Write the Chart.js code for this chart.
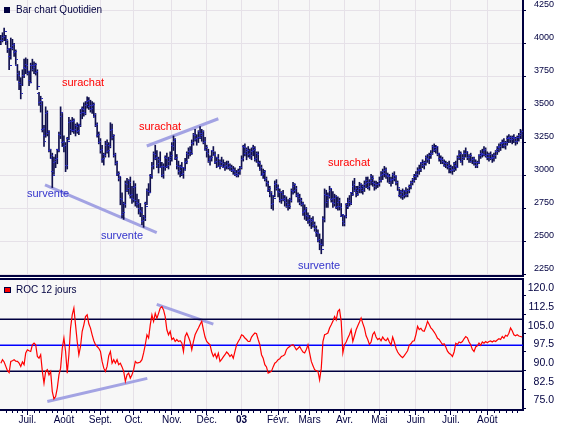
<!DOCTYPE html>
<html>
<head>
<meta charset="utf-8">
<script src="https://cdn.jsdelivr.net/npm/chart.js@4.4.1/dist/chart.umd.min.js"></script>
<style>
html, body { margin: 0; padding: 0; background: #fff; }
#wrap { position: relative; width: 564px; height: 427px; overflow: hidden; }
#pricePane { position: absolute; left: 0; top: 0; width: 564px; height: 277px; }
#rocPane { position: absolute; left: 0; top: 277px; width: 564px; height: 150px; }
</style>
</head>
<body>
<div id="wrap">
  <div id="pricePane"><canvas id="priceChart"></canvas></div>
  <div id="rocPane"><canvas id="rocChart"></canvas></div>
</div>
<script>
// daily bars, mid June 2002 -> end of August 2003
const opens = [
  4000,4020,4040,4050,4010,3950,3900,3970,3980,3930, 3830,3770,3700,3690,3760,3820,3840,3770,3720,3830,
  3800,3830,3780,3620,3550,3540,3350,3300,3470,3320, 3190,3130,3030,3100,3120,3200,3310,3450,3250,3220,
  3080,3280,3400,3350,3410,3340,3380,3330,3390,3470, 3510,3480,3530,3560,3520,3500,3530,3450,3380,3300,
  3250,3190,3120,3160,3230,3180,3230,3340,3290,3150, 3090,3010,2980,2830,2710,2790,2940,2890,2960,2850,
  2830,2910,2810,2780,2750,2730,2650,2690,2790,2890, 2880,3000,3070,3170,3130,3080,3120,3060,3000,3070,
  3140,3070,3110,3140,3230,3260,3130,3080,3030,3070, 3010,3060,3100,3170,3180,3180,3240,3310,3270,3280,
  3330,3290,3320,3250,3200,3180,3110,3130,3190,3150, 3100,3140,3070,3110,3080,3060,3070,3080,3060,3070,
  3040,3040,3010,3000,3030,3060,3120,3220,3170,3200, 3160,3140,3180,3210,3120,3170,3100,3050,3000,3020,
  2970,2950,2890,2860,2780,2850,2930,2900,2880,2810, 2870,2820,2810,2770,2780,2820,2890,2920,2890,2850,
  2840,2800,2780,2720,2740,2700,2660,2640,2670,2620, 2600,2570,2510,2490,2480,2680,2860,2800,2850,2890,
  2820,2800,2830,2760,2800,2770,2690,2650,2700,2780, 2800,2800,2870,2920,2890,2870,2890,2920,2900,2920,
  2930,2960,2910,2950,2990,2950,2920,2930,2930,2960, 3000,3030,3040,3010,2990,2950,2970,3010,2980,2950,
  2890,2850,2880,2840,2890,2860,2890,2920,2950,2970, 2990,3010,3040,3050,3100,3080,3100,3140,3120,3150,
  3170,3220,3190,3210,3160,3130,3120,3110,3080,3090, 3070,3060,3040,3050,3090,3070,3140,3160,3110,3140,
  3170,3170,3140,3150,3110,3120,3100,3080,3100,3150, 3170,3160,3190,3150,3140,3160,3130,3140,3150,3180,
  3200,3220,3240,3250,3230,3250,3280,3290,3270,3290, 3280,3260,3290,3300,3320
];
const highs = [
  4060,4080,4115,4060,4020,3960,4040,4030,4000,3950, 3840,3790,3740,3800,3880,3890,3880,3790,3850,3880,
  3860,3850,3800,3630,3600,3560,3380,3520,3490,3340, 3200,3170,3140,3160,3200,3330,3520,3470,3300,3250,
  3290,3440,3420,3440,3430,3390,3400,3390,3500,3520, 3550,3560,3595,3590,3570,3560,3550,3470,3400,3330,
  3280,3230,3170,3260,3270,3250,3400,3390,3310,3170, 3110,3030,2990,2870,2800,2960,2980,2970,2990,2920,
  2960,2940,2860,2820,2790,2760,2700,2800,2900,2940, 3010,3100,3180,3230,3190,3140,3180,3100,3090,3150,
  3170,3140,3180,3250,3300,3280,3160,3110,3080,3100, 3060,3130,3180,3210,3220,3270,3320,3350,3310,3340,
  3370,3350,3340,3290,3230,3200,3150,3190,3220,3180, 3140,3160,3120,3140,3120,3100,3110,3110,3090,3080,
  3070,3060,3040,3050,3070,3150,3230,3240,3210,3220, 3200,3210,3230,3220,3180,3180,3110,3080,3050,3040,
  2990,2960,2920,2880,2850,2960,2970,2930,2900,2880, 2890,2850,2840,2820,2830,2900,2950,2940,2920,2870,
  2860,2830,2800,2780,2760,2720,2700,2680,2690,2650, 2620,2590,2560,2520,2690,2900,2890,2870,2920,2900,
  2880,2860,2850,2840,2830,2790,2700,2700,2790,2830, 2850,2870,2960,2980,2920,2920,2950,2940,2930,2960,
  2990,2990,2970,3010,3000,2960,2960,2950,2990,3030, 3050,3070,3060,3020,3010,2990,3020,3030,3000,2960,
  2900,2890,2900,2890,2910,2900,2930,2960,2980,3010, 3030,3060,3080,3100,3120,3110,3150,3160,3170,3190,
  3230,3240,3230,3220,3170,3150,3140,3120,3110,3100, 3110,3080,3070,3100,3110,3150,3190,3180,3160,3190,
  3210,3180,3160,3170,3140,3140,3120,3110,3160,3190, 3200,3220,3210,3180,3170,3180,3160,3170,3190,3220,
  3240,3250,3270,3280,3260,3300,3310,3300,3300,3310, 3290,3300,3320,3350,3340
];
const lows = [
  3990,4010,4020,3990,3930,3800,3880,3950,3900,3840, 3720,3650,3580,3680,3740,3770,3760,3680,3700,3790,
  3770,3760,3650,3530,3480,3330,3220,3290,3300,3180, 3130,2910,3010,3060,3090,3180,3280,3220,3180,3030,
  3050,3270,3310,3330,3320,3300,3320,3310,3370,3430, 3450,3460,3510,3500,3480,3470,3440,3370,3290,3240,
  3170,3100,3080,3140,3170,3140,3210,3270,3140,3080, 3000,2960,2780,2680,2670,2760,2880,2860,2830,2790,
  2800,2770,2760,2710,2690,2630,2610,2660,2780,2850, 2870,2980,3050,3120,3060,3020,3060,2990,2980,3040,
  3060,3050,3080,3110,3190,3120,3050,3010,2990,3000, 2980,3040,3090,3130,3150,3160,3230,3260,3230,3250,
  3280,3260,3240,3190,3140,3100,3080,3110,3150,3090, 3060,3070,3050,3070,3060,3040,3050,3050,3040,3030,
  3010,3000,2990,2990,3010,3050,3110,3150,3120,3140, 3130,3120,3150,3110,3100,3070,3040,3000,2980,2960,
  2920,2880,2840,2750,2740,2840,2890,2840,2800,2790, 2810,2770,2760,2740,2750,2800,2860,2870,2840,2800,
  2780,2770,2700,2670,2660,2640,2620,2600,2610,2580, 2540,2500,2440,2410,2470,2650,2760,2760,2830,2800,
  2760,2770,2750,2740,2740,2690,2620,2620,2680,2750, 2770,2780,2850,2880,2840,2850,2870,2870,2860,2880,
  2910,2900,2890,2930,2920,2890,2900,2910,2920,2950, 2970,2990,2980,2950,2940,2920,2940,2960,2930,2890,
  2840,2830,2820,2830,2840,2840,2870,2900,2930,2950, 2970,2990,3010,3030,3060,3050,3080,3100,3090,3130,
  3160,3180,3170,3150,3110,3090,3090,3070,3060,3050, 3020,3020,3010,3030,3040,3060,3120,3100,3080,3120,
  3140,3120,3100,3100,3090,3080,3060,3060,3090,3130, 3140,3150,3140,3120,3110,3120,3100,3110,3130,3160,
  3180,3190,3210,3210,3200,3230,3250,3250,3240,3250, 3230,3240,3260,3280,3280
];
const closes = [
  4020,4050,4090,4030,3960,3830,3960,3990,3940,3880, 3760,3690,3620,3760,3810,3830,3790,3700,3830,3820,
  3840,3790,3670,3560,3580,3360,3260,3480,3330,3200, 3150,3000,3110,3130,3190,3300,3480,3260,3230,3080,
  3260,3410,3340,3420,3350,3370,3340,3380,3480,3500, 3470,3540,3570,3530,3510,3540,3460,3390,3310,3260,
  3200,3130,3150,3240,3190,3220,3350,3300,3160,3100, 3020,2990,2820,2720,2780,2930,2900,2950,2860,2820,
  2920,2800,2790,2740,2720,2660,2680,2770,2880,2870, 2990,3080,3160,3140,3090,3110,3070,3010,3060,3130,
  3080,3120,3150,3220,3270,3140,3070,3040,3060,3020, 3050,3110,3160,3190,3170,3250,3300,3280,3290,3320,
  3300,3330,3260,3210,3170,3120,3140,3180,3160,3110, 3130,3080,3100,3090,3070,3080,3090,3070,3060,3050,
  3030,3020,3010,3040,3060,3130,3210,3180,3190,3170, 3150,3190,3200,3130,3160,3090,3060,3010,3030,2980,
  2940,2900,2870,2790,2830,2940,2910,2870,2820,2860, 2830,2800,2780,2770,2810,2880,2930,2900,2860,2830,
  2810,2790,2730,2750,2690,2670,2650,2660,2630,2600, 2560,2520,2480,2440,2670,2850,2810,2840,2900,2830,
  2790,2840,2770,2810,2760,2710,2640,2690,2770,2810, 2790,2860,2930,2900,2860,2900,2930,2890,2910,2940,
  2950,2920,2960,2980,2940,2930,2930,2940,2960,3010, 3020,3050,3000,2990,2960,2970,3000,2990,2950,2910,
  2860,2870,2850,2880,2860,2890,2920,2950,2960,2990, 3010,3040,3050,3090,3080,3100,3130,3120,3150,3170,
  3210,3200,3220,3170,3130,3120,3100,3090,3090,3080, 3060,3040,3050,3080,3060,3140,3170,3120,3140,3170,
  3180,3140,3150,3120,3130,3100,3080,3100,3150,3170, 3160,3200,3160,3140,3160,3130,3140,3150,3180,3210,
  3220,3240,3250,3230,3250,3280,3290,3270,3290,3280, 3260,3290,3300,3330,3310
];
// ROC 12 jours
const roc12 = [
  93.0,94.4,93.5,91.7,90.0,89.2,93.7,94.0,94.4,93.8, 93.7,93.0,91.7,93.5,92.4,97.1,98.4,98.0,97.7,100.4,
  101.1,100.4,95.7,95.0,96.4,89.7,85.0,89.7,90.4,88.3, 89.7,81.6,78.7,79.6,83.0,88.3,91.0,99.0,103.1,97.7,
  89.0,96.4,107.1,112.4,115.1,108.4,101.7,96.4,99.7,105.8, 108.4,111.7,112.4,108.8,107.1,104.4,102.0,100.4,99.7,99.0,
  97.7,93.7,91.0,89.7,91.7,96.0,97.7,93.0,94.4,93.0, 94.4,92.4,93.0,91.5,89.7,85.7,88.3,89.0,87.0,88.3,
  90.4,93.7,93.0,93.2,93.5,94.4,97.1,100.4,104.4,103.1, 108.4,112.4,109.8,113.0,111.0,113.0,115.1,115.7,114.4,111.7,
  106.4,104.4,105.8,102.5,103.1,101.7,102.5,101.7,102.0,101.1, 97.7,103.7,105.1,103.5,101.7,98.4,101.7,104.4,105.8,107.1,
  108.5,109.8,106.5,103.5,101.7,101.0,100.4,97.5,95.7,96.8, 95.0,97.0,93.7,94.5,95.5,96.4,97.5,96.8,95.7,96.4,
  95.0,97.7,100.4,101.7,102.8,104.4,104.0,103.1,102.5,101.7, 101.7,103.5,104.4,105.1,104.8,102.5,100.4,96.4,95.0,92.4,
  91.5,89.0,89.4,89.7,91.5,93.0,93.5,94.4,94.8,95.7, 96.0,96.4,98.4,99.2,99.7,100.2,100.4,99.5,98.4,99.0,
  99.7,98.5,97.5,97.1,98.5,100.4,97.0,93.7,92.0,90.4, 90.0,89.7,86.3,91.0,101.7,104.4,104.7,105.1,107.1,108.4,
  109.8,111.7,110.4,113.8,114.5,109.8,97.1,100.4,101.5,103.1, 104.5,106.4,101.7,104.0,106.4,108.0,109.5,111.1,109.0,107.1,
  104.0,102.5,100.5,101.5,104.5,105.5,103.5,102.5,103.0,102.0, 103.5,102.5,102.0,103.0,101.5,100.3,103.5,101.5,99.0,97.5,
  96.5,95.8,95.2,96.0,97.0,98.0,100.3,100.8,101.8,102.0, 104.5,107.8,106.5,107.0,106.0,105.8,107.5,109.8,108.5,107.2,
  106.5,105.5,104.4,103.0,102.5,101.5,100.5,100.8,99.5,97.8, 97.0,96.5,95.7,97.5,101.0,100.5,101.5,101.2,101.7,102.8,
  103.7,103.2,101.5,100.4,98.5,97.7,99.5,100.0,101.1,100.2, 101.5,101.0,101.7,101.2,101.7,101.9,101.5,102.0,101.7,102.3,
  102.8,102.5,103.7,103.0,104.2,103.8,105.0,107.1,106.0,104.4, 104.0,104.4,103.9,103.7,103.5
];

// first trading day of each month (index into the arrays above)
const monthStarts = [16, 38, 60, 80, 103, 124, 145, 167, 186, 207, 228, 250, 271, 293];
const monthLabels = ['Juil.', 'Août', 'Sept.', 'Oct.', 'Nov.', 'Déc.', '03', 'Févr.', 'Mars', 'Avr.', 'Mai', 'Juin', 'Juil.', 'Août'];
const priceTicks = [2250, 2500, 2750, 3000, 3250, 3500, 3750, 4000, 4250];
const rocTicks = [75, 82.5, 90, 97.5, 105, 112.5, 120];
const rocLevels = [110.6, 100.2, 89.8];

// hand drawn trend lines: [startDay, startValue, endDay, endValue]
const priceTrends = [[26.6, 2930, 93.9, 2570], [87.9, 3224, 131, 3430]];
const rocTrends = [[28, 77.6, 88.2, 86.9], [93.9, 116.6, 128, 108.7]];
const notes = [
  { text: 'surachat', day: 49.5, value: 3700 },
  { text: 'surachat', day: 95.9, value: 3367 },
  { text: 'surachat', day: 209.7, value: 3096 },
  { text: 'survente', day: 28.4, value: 2862 },
  { text: 'survente', day: 73, value: 2545 },
  { text: 'survente', day: 191.7, value: 2318 }
];

const navy = '#000040';
const barColor = '#10104e';
const tickBlue = '#2c2cbc';
const gridColor = '#e6e1e8';
const plotBg = '#f7f7f7';
const trendColor = '#a3a3e3';
const fontFamily = '"Liberation Sans", Arial, sans-serif';
const xMin = -0.5;
const xMax = closes.length - 0.5;
const days = closes.map((_, i) => i);

// small ticks, roughly every 5 calendar days
const minorTicks = [3, 7, 10, 13];
monthStarts.forEach((m, k) => {
    const len = (monthStarts[k + 1] || closes.length) - m;
    for (let j = 1; j < 6; j++) minorTicks.push(m + Math.round(j * len / 6));
});

function tickImage(side) {
    const c = document.createElement('canvas');
    c.width = 5;
    c.height = 1;
    const g = c.getContext('2d');
    g.fillStyle = tickBlue;
    g.fillRect(side === 'left' ? 0 : 3, 0, 2, 1);
    return c;
}

function trendDataset(t) {
    return {
        type: 'line',
        data: [{ x: t[0], y: t[1] }, { x: t[2], y: t[3] }],
        borderColor: trendColor,
        borderWidth: 3,
        pointRadius: 0,
        order: 5
    };
}

function noPadding(ax) {
    ax.paddingTop = 0;
    ax.paddingBottom = 0;
    ax.paddingLeft = 0;
    ax.paddingRight = 0;
}

const panelPlugin = {
    id: 'panel',
    beforeDraw(chart, args, opts) {
        const { ctx, chartArea: a } = chart;
        ctx.save();
        ctx.fillStyle = plotBg;
        ctx.fillRect(a.left, a.top, a.right - a.left, a.bottom - a.top);
        ctx.restore();
    },
    afterDraw(chart, args, opts) {
        const { ctx, chartArea: a } = chart;
        ctx.save();
        if (opts.topBorder) {
            ctx.strokeStyle = navy;
            ctx.lineWidth = 2;
            ctx.beginPath();
            ctx.moveTo(a.left, a.top);
            ctx.lineTo(a.right + 1, a.top);
            ctx.stroke();
        }
        if (opts.minorTicks) {
            const x = chart.scales.x;
            ctx.strokeStyle = navy;
            ctx.lineWidth = 1;
            ctx.beginPath();
            opts.minorTicks.forEach(v => {
                const px = Math.round(x.getPixelForValue(v)) + 0.5;
                ctx.moveTo(px, a.bottom);
                ctx.lineTo(px, a.bottom + 3);
            });
            ctx.stroke();
        }
        // legend box + title
        const cy = a.top + opts.legendY;
        ctx.fillStyle = opts.boxColor;
        ctx.fillRect(a.left + 4, cy - 3, 6, 6);
        if (opts.boxBorder) {
            ctx.strokeStyle = opts.boxBorder;
            ctx.lineWidth = 1;
            ctx.strokeRect(a.left + 4.5, cy - 2.5, 6, 5);
        }
        ctx.fillStyle = navy;
        ctx.font = '10px ' + fontFamily;
        ctx.textBaseline = 'middle';
        ctx.fillText(opts.title, a.left + 16, cy);
        ctx.restore();
    }
};

const notesPlugin = {
    id: 'notes',
    afterDatasetsDraw(chart, args, opts) {
        if (!opts.items) return;
        const { ctx, scales: { x, y } } = chart;
        ctx.save();
        ctx.font = '11px ' + fontFamily;
        ctx.textAlign = 'center';
        ctx.textBaseline = 'middle';
        opts.items.forEach(n => {
            ctx.fillStyle = n.text === 'surachat' ? '#ff0000' : '#3434cc';
            ctx.fillText(n.text, x.getPixelForValue(n.day), y.getPixelForValue(n.value));
        });
        ctx.restore();
    }
};

Chart.register(panelPlugin, notesPlugin);

new Chart(document.getElementById('priceChart'), {
    type: 'bar',
    data: {
        datasets: [
            {
                label: 'Bar chart Quotidien',
                data: days.map(i => ({ x: i, y: [lows[i], highs[i]] })),
                backgroundColor: barColor,
                barThickness: 1,
                grouped: false,
                order: 2
            },
            {
                type: 'scatter',
                data: days.map(i => ({ x: i, y: opens[i] })),
                pointStyle: tickImage('left'),
                pointRadius: 3,
                order: 1
            },
            {
                type: 'scatter',
                data: days.map(i => ({ x: i, y: closes[i] })),
                pointStyle: tickImage('right'),
                pointRadius: 3,
                order: 1
            },
            ...priceTrends.map(trendDataset)
        ]
    },
    options: {
        responsive: true,
        maintainAspectRatio: false,
        animation: false,
        events: [],
        layout: { autoPadding: false, padding: { top: 0, right: 10, bottom: 1, left: 0 } },
        plugins: {
            legend: { display: false },
            tooltip: { enabled: false },
            panel: { legendY: 10, title: 'Bar chart Quotidien', boxColor: navy },
            notes: { items: notes }
        },
        scales: {
            x: {
                type: 'linear',
                offset: false,
                min: xMin,
                max: xMax,
                afterBuildTicks: ax => { ax.ticks = monthStarts.map(v => ({ value: v })); },
                ticks: { display: false },
                grid: { offset: false, color: gridColor, drawTicks: false },
                border: { display: true, color: navy, width: 2 },
                afterFit: ax => { ax.height = 0; noPadding(ax); }
            },
            y: {
                position: 'right',
                min: 2242,
                max: 4327,
                afterBuildTicks: ax => { ax.ticks = priceTicks.map(v => ({ value: v })); },
                ticks: {
                    color: navy,
                    font: { family: fontFamily, size: 9 },
                    labelOffset: -6,
                    crossAlign: 'far',
                    padding: 0,
                    callback: v => String(v)
                },
                grid: { color: gridColor, tickColor: navy, tickLength: 3 },
                border: { color: navy, width: 2 },
                afterFit: ax => { ax.width = 31; noPadding(ax); }
            }
        }
    }
});

new Chart(document.getElementById('rocChart'), {
    type: 'line',
    data: {
        datasets: [
            {
                label: 'ROC 12 jours',
                data: days.map(i => ({ x: i, y: roc12[i] })),
                borderColor: '#ff0000',
                borderWidth: 1.2,
                pointRadius: 0,
                order: 1
            },
            ...rocLevels.map((lvl, k) => ({
                data: [{ x: xMin, y: lvl }, { x: xMax, y: lvl }],
                borderColor: k === 1 ? '#0000ff' : navy,
                borderWidth: 1.5,
                pointRadius: 0,
                order: 4
            })),
            ...rocTrends.map(trendDataset)
        ]
    },
    options: {
        responsive: true,
        maintainAspectRatio: false,
        animation: false,
        events: [],
        layout: { autoPadding: false, padding: { top: 2, right: 10, bottom: 0, left: 0 } },
        plugins: {
            legend: { display: false },
            tooltip: { enabled: false },
            panel: { legendY: 11, title: 'ROC 12 jours', boxColor: '#ff0000', boxBorder: navy, topBorder: true, minorTicks: minorTicks },
            notes: {}
        },
        scales: {
            x: {
                type: 'linear',
                min: xMin,
                max: xMax,
                afterBuildTicks: ax => { ax.ticks = monthStarts.map(v => ({ value: v })); },
                ticks: {
                    autoSkip: false,
                    maxRotation: 0,
                    color: navy,
                    padding: -1,
                    font: c => ({ family: fontFamily, size: 10, weight: c.tick && c.tick.label === '03' ? 'bold' : 'normal' }),
                    callback: v => monthLabels[monthStarts.indexOf(v)]
                },
                grid: { color: gridColor, tickColor: navy, tickLength: 5 },
                border: { color: navy, width: 2 },
                afterFit: ax => { ax.height = 17; noPadding(ax); }
            },
            y: {
                position: 'right',
                min: 74.2,
                max: 126.8,
                afterBuildTicks: ax => { ax.ticks = rocTicks.map(v => ({ value: v })); },
                ticks: {
                    color: navy,
                    font: { family: fontFamily, size: 10.5 },
                    labelOffset: -7.5,
                    crossAlign: 'far',
                    padding: 0,
                    callback: v => v.toFixed(1)
                },
                grid: { color: 'rgba(0,0,0,0)', tickColor: navy, tickLength: 3 },
                border: { color: navy, width: 2 },
                afterFit: ax => { ax.width = 31; noPadding(ax); }
            }
        }
    }
});
</script>
</body>
</html>
